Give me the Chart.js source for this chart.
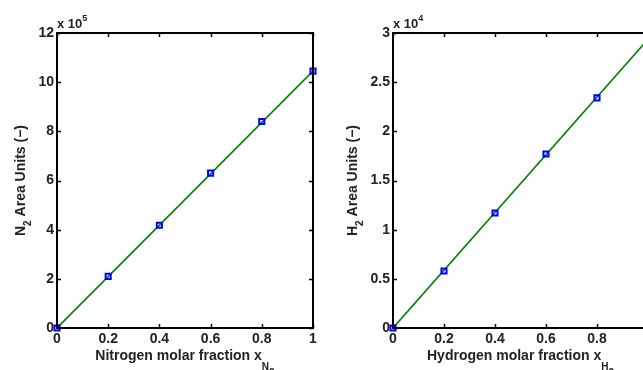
<!DOCTYPE html>
<html>
<head>
<meta charset="utf-8">
<script src="https://cdn.jsdelivr.net/npm/chart.js@4"></script>
<style>
  html, body { margin: 0; padding: 0; background: #fff; overflow: hidden; }
  #wrap { position: relative; width: 643px; height: 370px; overflow: hidden; background: #fff; }
  canvas { position: absolute; top: 0; }
  #n2-chart { left: 0; }
  #h2-chart { left: 330px; }
</style>
</head>
<body>
<div id="wrap">
  <canvas id="n2-chart" width="330" height="370"></canvas>
  <canvas id="h2-chart" width="350" height="370"></canvas>
</div>
<script>
// measured calibration points (molar fraction vs peak area)
const n2Fraction = [0, 0.2, 0.4, 0.6, 0.8, 1.0];
const n2Area = [0, 2.1e5, 4.18e5, 6.3e5, 8.4e5, 10.45e5];
const n2FitX = [0, 1];
const n2FitY = [0, 10.45e5];
const n2YTicks = [0, 2, 4, 6, 8, 10, 12];
const n2XTicks = [0, 0.2, 0.4, 0.6, 0.8, 1];

const h2Fraction = [0, 0.2, 0.4, 0.6, 0.8];
const h2Area = [0, 0.58e4, 1.17e4, 1.77e4, 2.34e4];
const h2FitX = [0, 1];
const h2FitY = [0, 2.935e4];
const h2YTicks = [0, 0.5, 1, 1.5, 2, 2.5, 3];
const h2XTicks = [0, 0.2, 0.4, 0.6, 0.8, 1];

const TEXT = "#222";
const FONT = "Liberation Sans, Arial, sans-serif";

// draws runs of text; parts with `small` are sub/superscripts shifted by `dy`
function drawRich(ctx, parts, x, y, size, align) {
  const fontFor = (p) => `bold ${p.small ? Math.round(size * 0.72) : size}px ${FONT}`;
  const widths = parts.map((p) => {
    ctx.font = fontFor(p);
    return ctx.measureText(p.t).width;
  });
  const total = widths.reduce((a, b) => a + b, 0);
  let cx = align === "center" ? x - total / 2 : x;
  parts.forEach((p, i) => {
    ctx.font = fontFor(p);
    ctx.fillText(p.t, cx, y + (p.dy || 0));
    cx += widths[i];
  });
}

const matlabFrame = {
  id: "matlabFrame",
  afterDraw(chart, args, opts) {
    const { ctx, chartArea: a, scales } = chart;
    ctx.save();
    ctx.strokeStyle = "#000";
    ctx.lineWidth = 2;
    ctx.strokeRect(a.left, a.top, a.right - a.left, a.bottom - a.top);
    ctx.lineWidth = 1.5;
    ctx.beginPath();
    opts.xTicks.forEach((v) => {
      const px = Math.round(scales.x.getPixelForValue(v)) + 0.5;
      ctx.moveTo(px, a.bottom); ctx.lineTo(px, a.bottom - 4);
      ctx.moveTo(px, a.top); ctx.lineTo(px, a.top + 4);
    });
    opts.yTicks.forEach((v) => {
      const py = Math.round(scales.y.getPixelForValue(v * opts.factor)) + 0.5;
      ctx.moveTo(a.left, py); ctx.lineTo(a.left + 4, py);
      ctx.moveTo(a.right, py); ctx.lineTo(a.right - 4, py);
    });
    ctx.stroke();

    ctx.fillStyle = TEXT;
    ctx.textBaseline = "alphabetic";
    ctx.textAlign = "left";
    // exponent label above the y axis
    drawRich(ctx, [{ t: "x 10" }, { t: String(opts.exponent), small: true, dy: -7 }], a.left, a.top - 5, 13, "left");
    // x axis title
    drawRich(ctx, opts.xTitle, (a.left + a.right) / 2, 360, 14, "center");
    // y axis title, rotated
    ctx.translate(opts.yTitleX, (a.top + a.bottom) / 2);
    ctx.rotate(-Math.PI / 2);
    drawRich(ctx, opts.yTitle, 0, 0, 14, "center");
    ctx.restore();
  },
};

function makeChart(id, cfg) {
  return new Chart(document.getElementById(id), {
    type: "scatter",
    data: {
      datasets: [
        {
          data: cfg.xs.map((x, i) => ({ x, y: cfg.ys[i] })),
          showLine: false,
          pointStyle: "rect",
          pointRadius: 3.6,
          pointBorderColor: "#0000ff",
          pointBackgroundColor: "rgba(0,0,0,0)",
          pointBorderWidth: 2,
          clip: false,
          order: 1,
        },
        {
          data: cfg.fitX.map((x, i) => ({ x, y: cfg.fitY[i] })),
          showLine: true,
          borderColor: "#008000",
          borderWidth: 1.6,
          pointRadius: 0,
          order: 2,
        },
      ],
    },
    options: {
      responsive: false,
      animation: false,
      layout: { padding: { left: 0, right: cfg.padRight, top: 33, bottom: 0 } },
      plugins: {
        legend: { display: false },
        tooltip: { enabled: false },
        matlabFrame: {
          xTicks: cfg.xTicks, yTicks: cfg.yTicks, factor: cfg.factor, yTitleX: cfg.yTitleX,
          exponent: cfg.exponent, xTitle: cfg.xTitle, yTitle: cfg.yTitle,
        },
      },
      scales: {
        x: {
          type: "linear", min: 0, max: 1,
          afterBuildTicks: (s) => { s.ticks = cfg.xTicks.map((v) => ({ value: v })); },
          afterFit: (s) => { s.height = 42; },
          grid: { display: false, drawTicks: false },
          border: { display: false },
          ticks: {
            color: TEXT, padding: 3, font: { family: FONT, size: 14, weight: "bold" }, maxRotation: 0,
            callback: (v) => String(+v.toFixed(2)),
          },
        },
        y: {
          type: "linear", min: 0, max: cfg.yMax,
          afterBuildTicks: (s) => { s.ticks = cfg.yTicks.map((v) => ({ value: v * cfg.factor })); },
          afterFit: (s) => { s.width = cfg.yWidth; },
          grid: { display: false, drawTicks: false },
          border: { display: false },
          ticks: {
            color: TEXT, padding: 3, font: { family: FONT, size: 14, weight: "bold" },
            callback: (v) => String(+(v / cfg.factor).toFixed(2)),
          },
        },
      },
    },
    plugins: [matlabFrame],
  });
}

makeChart("n2-chart", {
  xs: n2Fraction, ys: n2Area, fitX: n2FitX, fitY: n2FitY,
  xTicks: n2XTicks, yTicks: n2YTicks, factor: 1e5, exponent: 5, yMax: 12e5,
  yWidth: 57, padRight: 17, yTitleX: 25,
  xTitle: [{ t: "Nitrogen molar fraction x" }, { t: "N", small: true, dy: 10 }, { t: "2", small: true, dy: 16 }],
  yTitle: [{ t: "N" }, { t: "2", small: true, dy: 6 }, { t: " Area Units (\u2212)" }],
});

makeChart("h2-chart", {
  xs: h2Fraction, ys: h2Area, fitX: h2FitX, fitY: h2FitY,
  xTicks: h2XTicks, yTicks: h2YTicks, factor: 1e4, exponent: 4, yMax: 3e4,
  yWidth: 63, padRight: 32, yTitleX: 27,
  xTitle: [{ t: "Hydrogen molar fraction x" }, { t: "H", small: true, dy: 10 }, { t: "2", small: true, dy: 16 }],
  yTitle: [{ t: "H" }, { t: "2", small: true, dy: 6 }, { t: " Area Units (\u2212)" }],
});
</script>
</body>
</html>
